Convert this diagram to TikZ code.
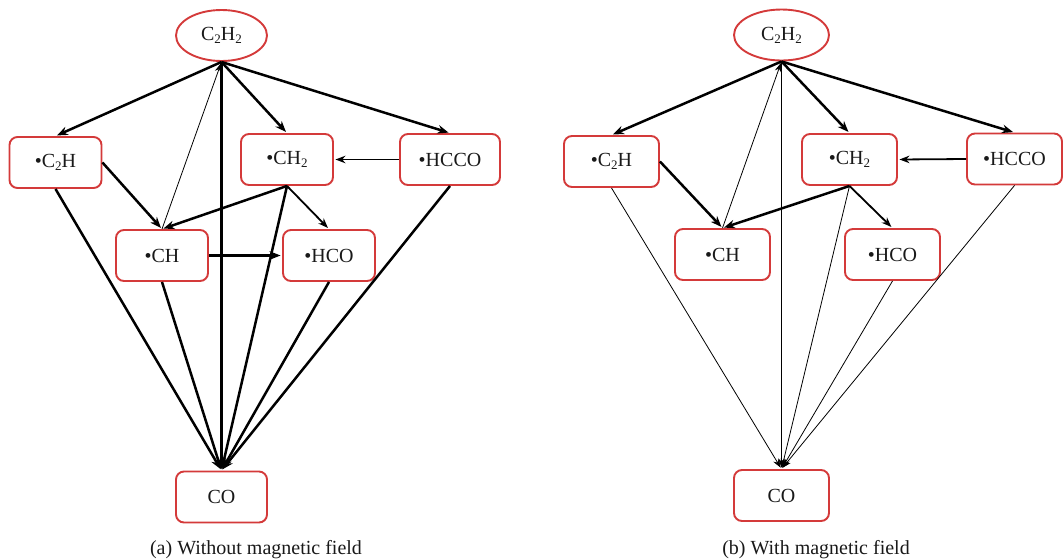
\documentclass[tikz,border=0pt]{standalone}
\usepackage{fontspec}
\setmainfont{Liberation Serif}
\usetikzlibrary{arrows.meta,shapes.geometric}
\definecolor{boxred}{RGB}{212,58,58}
\newcommand{\mysub}[1]{\raisebox{-0.35ex}{\fontsize{13}{13}\selectfont #1}}
\begin{document}
\begin{tikzpicture}[x=1pt,y=-1pt,
  lbl/.style={font=\fontsize{20}{24}\selectfont, text=black!90},
  box/.style={draw=boxred, line width=1.9pt, rounded corners=8pt, minimum height=51pt, inner sep=0pt, fill=white, lbl},
  oval/.style={ellipse, draw=boxred, line width=1.9pt, minimum height=51pt, inner sep=0pt, fill=white, lbl},
  heavy/.style={line width=2.5pt, -{Stealth[length=11pt,width=8.5pt]}, shorten >=1.5pt},
  medium/.style={line width=1.8pt, -{Stealth[length=10pt,width=7.5pt]}, shorten >=1.5pt},
  light/.style={line width=0.8pt, -{Stealth[length=9pt,width=6.5pt]}, shorten >=1.5pt},
]
\useasboundingbox (0,0) rectangle (1063,558);
% ---------- panel (a) ----------
\node[oval, minimum width=91pt] (A0) at (221.5,35.5) {C\mysub{2}H\mysub{2}};
\node[box, minimum width=92pt] (A1) at (55.5,162.5) {•C\mysub{2}H};
\node[box, minimum width=92pt] (A2) at (287,159.5) {•CH\mysub{2}};
\node[box, minimum width=100pt] (A3) at (450,159.5) {•HCCO};
\node[box, minimum width=92pt] (A4) at (162,255.5) {•CH};
\node[box, minimum width=92pt] (A5) at (329,255.5) {•HCO};
\node[box, minimum width=91pt] (A6) at (221.5,497) {CO};
\node[lbl, anchor=base] (capa) at (256,554) {(a) Without magnetic field};

\draw[heavy] (A0.south) -- (A1.north);
\draw[heavy] (A0.south) -- (A2.north);
\draw[heavy] (A0.south) -- (A3.north);
\draw[heavy] (A0.south) -- (A6.north);
\draw[light] (A4.north) -- (A0.south);
\draw[heavy] (A1.east) -- (A4.north);
\draw[heavy] (A2.south) -- (A4.north);
\draw[medium] (A2.south) -- (A5.north);
\draw[medium] (A3.west) -- (A2.east);
\draw[heavy] (A4.east) -- (A5.west);
\draw[heavy] (A1.south) -- (A6.north);
\draw[heavy] (A4.south) -- (A6.north);
\draw[heavy] (A2.south) -- (A6.north);
\draw[heavy] (A5.south) -- (A6.north);
\draw[heavy] (A3.south) -- (A6.north);

% ---------- panel (b) ----------
\node[oval, minimum width=95pt] (B0) at (781.5,35) {C\mysub{2}H\mysub{2}};
\node[box, minimum width=95pt] (B1) at (611.5,161.5) {•C\mysub{2}H};
\node[box, minimum width=95pt] (B2) at (849.5,159.5) {•CH\mysub{2}};
\node[box, minimum width=95pt] (B3) at (1014.5,159) {•HCCO};
\node[box, minimum width=95pt] (B4) at (722.5,254.5) {•CH};
\node[box, minimum width=95pt] (B5) at (892.5,254.5) {•HCO};
\node[box, minimum width=95pt] (B6) at (781.5,495.5) {CO};
\node[lbl, anchor=base] (capb) at (816,554) {(b) With magnetic field};

\draw[heavy] (B0.south) -- (B1.north);
\draw[heavy] (B0.south) -- (B2.north);
\draw[heavy] (B0.south) -- (B3.north);
\draw[light] (B0.south) -- (B6.north);
\draw[light] (B4.north) -- (B0.south);
\draw[heavy] (B1.east) -- (B4.north);
\draw[heavy] (B2.south) -- (B4.north);
\draw[medium] (B2.south) -- (B5.north);
\draw[medium] (B3.west) -- (B2.east);
\draw[light] (B1.south) -- (B6.north);
\draw[light] (B2.south) -- (B6.north);
\draw[light] (B5.south) -- (B6.north);
\draw[light] (B3.south) -- (B6.north);
\end{tikzpicture}
\end{document}
